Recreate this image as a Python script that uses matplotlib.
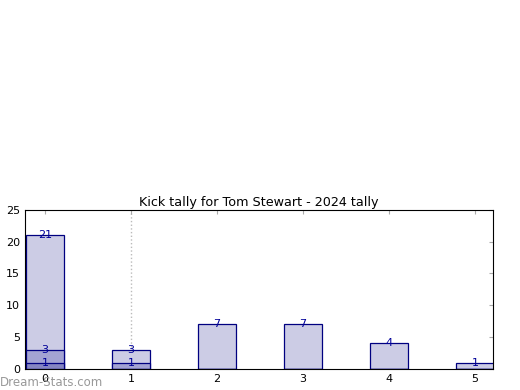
import numpy as np
import matplotlib.pyplot as plt

# Tally per kick count, with the overlaid sub-tallies
kicks = [0, 1, 2, 3, 4, 5]
total = [21, 3, 7, 7, 4, 1]
middle = [3, 1, 0, 0, 0, 0]
inner = [1, 0, 0, 0, 0, 0]

layers = [(total, '#ccccE5'), (middle, '#a3a3d3'), (inner, '#8585c2')]

fig = plt.figure(figsize=(5.2, 3.9), dpi=100)
ax = fig.add_axes([0.048, 0.054, 0.9, 0.408])

x = np.array(kicks)
for values, color in layers:
    vals = np.array(values)
    ax.bar(x, vals, width=0.45, color=color, edgecolor='#000080', linewidth=0.9, zorder=2)
    for xi, v in zip(x, vals):
        if v > 0:
            ax.text(xi, v, str(v), ha='center', va='center', color='#000099', fontsize=8, zorder=3)

ax.axvline(1, color='#bbbbbb', linestyle=':', linewidth=1, zorder=1)

ax.set_xlim(-0.233, 5.21)
ax.set_ylim(0, 25)
ax.set_xticks(kicks)
ax.set_yticks(np.arange(0, 26, 5))
ax.tick_params(direction='in', length=3, color='#aaaaaa', labelsize=8, top=True, right=True)
for s in ax.spines.values():
    s.set_zorder(4)
ax.set_title('Kick tally for Tom Stewart - 2024 tally', fontsize=9.2, pad=3)

# watermark, drawn over the x tick label like the original
fig.text(0.0, 0.01, 'Dream-Stats.com', color='#999999', fontsize=8.5, zorder=5)

fig.savefig('out.png')
